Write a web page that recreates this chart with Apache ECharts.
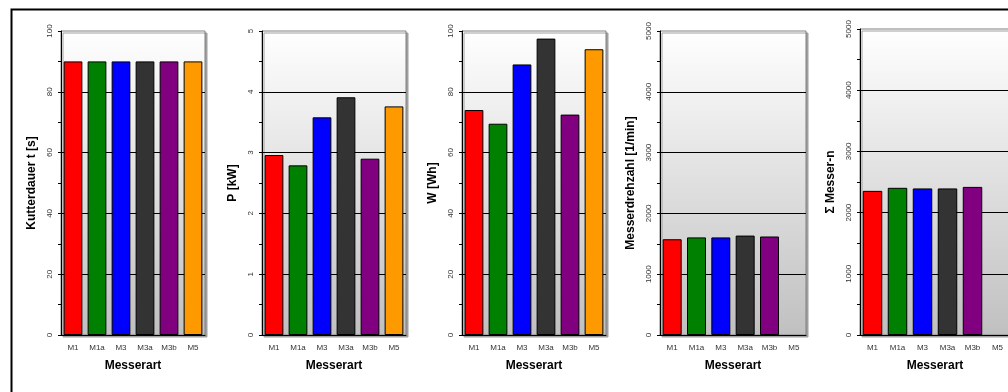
<!DOCTYPE html>
<html>
<head>
<meta charset="utf-8">
<script src="https://cdn.jsdelivr.net/npm/echarts@6/dist/echarts.min.js"></script>
<style>
html,body{margin:0;padding:0;background:#fff;}
#chart{width:1008px;height:392px;}
</style>
</head>
<body>
<div id="chart"></div>
<script>
const categories = ['M1', 'M1a', 'M3', 'M3a', 'M3b', 'M5'];
const barColors = ['#ff0000', '#008000', '#0000ff', '#333333', '#800080', '#ff9900'];

const kutterdauer = [90, 90, 90, 90, 90, 90];
const leistung = [2.96, 2.79, 3.58, 3.91, 2.90, 3.76];
const arbeit = [74, 69.5, 89, 97.5, 72.5, 94];
const drehzahl = [1575, 1605, 1605, 1635, 1620, null];
const summeN = [2355, 2405, 2395, 2395, 2420, null];

const panelTitles = ['Kutterdauer t [s]', 'P [kW]', 'W [Wh]', 'Messerdrehzahl [1/min]', 'Σ Messer-n'];
const panelData = [kutterdauer, leistung, arbeit, drehzahl, summeN];
const panelMax = [100, 5, 100, 5000, 5000];
const panelInterval = [20, 1, 20, 1000, 1000];
const xTitle = 'Messerart';

const layout = [
  {left: 61, top: 31, width: 144, height: 304},
  {left: 262, top: 31, width: 144, height: 304},
  {left: 462, top: 31, width: 144, height: 304},
  {left: 660, top: 31, width: 146, height: 304},
  {left: 860, top: 29, width: 150, height: 306}
];

const grids = [], xAxes = [], yAxes = [], series = [];
layout.forEach((g, i) => {
  grids.push({
    left: g.left, top: g.top, width: g.width, height: g.height,
    outerBoundsMode: 'none', containLabel: false,
    show: true,
    borderColor: '#808080', borderWidth: 1,
    shadowColor: '#a0a0a0', shadowOffsetX: 2, shadowOffsetY: 2, shadowBlur: 0,
    backgroundColor: {type: 'linear', x: 0, y: 0, x2: 0, y2: 1,
      colorStops: [{offset: 0, color: '#ffffff'}, {offset: 1, color: '#c0c0c0'}]}
  });
  xAxes.push({
    type: 'category', gridIndex: i, data: categories,
    axisLine: {lineStyle: {color: '#000', width: 1}},
    axisTick: {show: false},
    axisLabel: {interval: 0, fontSize: 8, color: '#333', margin: 9, fontFamily: 'Liberation Sans, Arial, sans-serif'},
    name: xTitle, nameLocation: 'middle', nameGap: 25,
    nameTextStyle: {fontSize: 12, fontWeight: 'bold', color: '#000', fontFamily: 'Liberation Sans, Arial, sans-serif'}
  });
  yAxes.push({
    type: 'value', gridIndex: i, min: 0, max: panelMax[i], interval: panelInterval[i],
    axisLine: {show: true, lineStyle: {color: '#000', width: 1}},
    axisTick: {show: true, length: 3, lineStyle: {color: '#000'}},
    minorTick: {show: true, splitNumber: 2, length: 3, lineStyle: {color: '#000'}},
    splitLine: {show: true, showMaxLine: false, showMinLine: false, lineStyle: {color: '#000', width: 1}},
    axisLabel: {rotate: 90, fontSize: 8, color: '#333', margin: 7,
      formatter: v => String(v),
      fontFamily: 'Liberation Sans, Arial, sans-serif'},
    name: panelTitles[i], nameLocation: 'middle', nameRotate: 90, nameGap: 23,
    nameTextStyle: {fontSize: 12, fontWeight: 'bold', color: '#000', fontFamily: 'Liberation Sans, Arial, sans-serif'}
  });
  series.push({
    type: 'bar', xAxisIndex: i, yAxisIndex: i,
    barCategoryGap: '22%',
    data: panelData[i].map((v, k) => ({value: v, itemStyle: {color: barColors[k]}})),
    itemStyle: {borderColor: '#000', borderWidth: 1},
    silent: true, animation: false
  });
});

const chart = echarts.init(document.getElementById('chart'), null, {renderer: 'canvas'});
chart.setOption({
  animation: false,
  backgroundColor: '#ffffff',
  grid: grids, xAxis: xAxes, yAxis: yAxes, series: series,
  graphic: [{
    type: 'rect', left: 9, top: 7, z: 100, silent: true,
    shape: {width: 1010, height: 400},
    style: {fill: 'none', stroke: '#000', lineWidth: 2}
  }]
});
</script>
</body>
</html>
